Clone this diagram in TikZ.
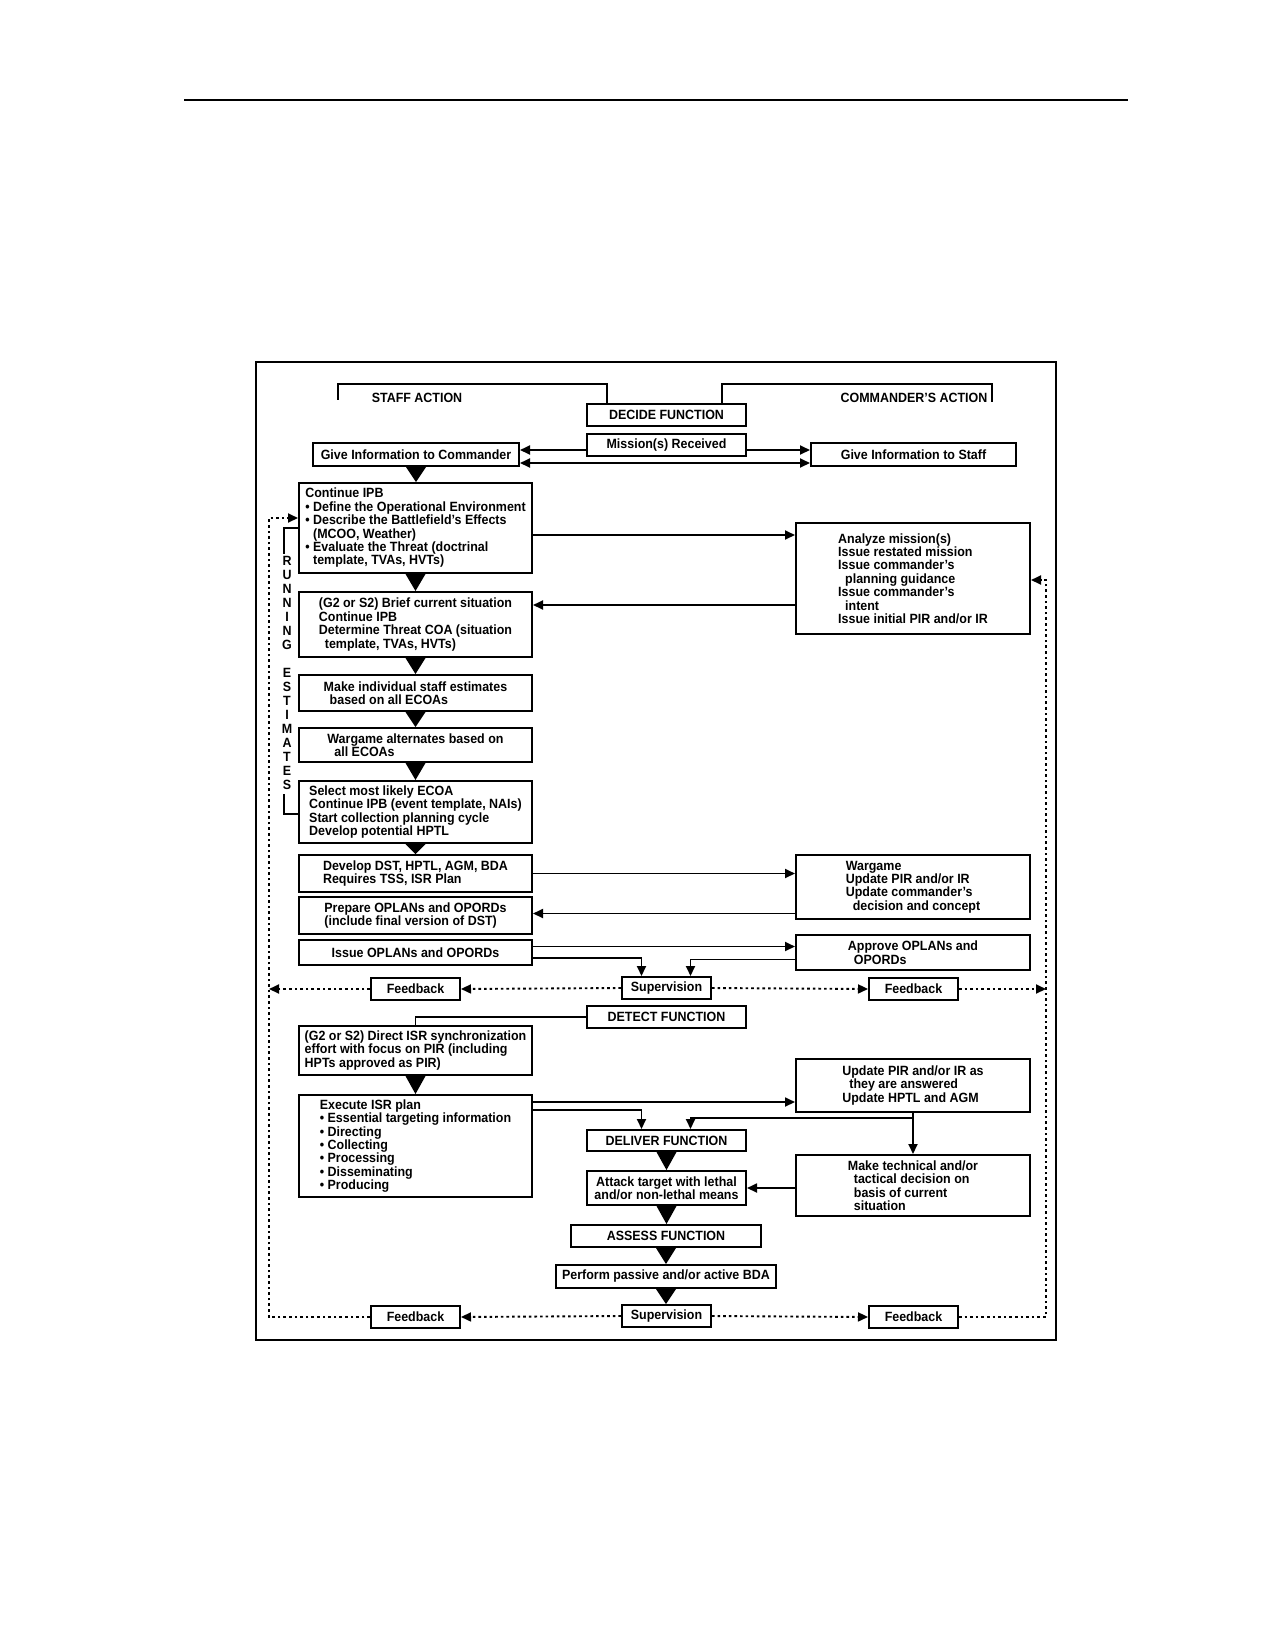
\documentclass[tikz,border=0pt]{standalone}
\usepackage{fontspec}
\setmainfont{Liberation Sans}[FakeStretch=0.93]
\usetikzlibrary{arrows.meta,calc}
\newcommand\tridown[2]{\fill ($(#1.south)+(-10,0)$) -- ($(#1.south)+(10,0)$) -- (#1.south |- #2.north) -- cycle;}
\begin{document}
\begin{tikzpicture}[x=1pt,y=-1pt,
  txt/.style={font=\fontsize{13.4}{13.4}\selectfont\bfseries},
  box/.style={txt,draw,line width=2pt,inner sep=2pt,align=left},
  lc/.style={box,minimum width=233pt},
  cc/.style={box,minimum width=159pt},
  rc/.style={box,minimum width=234pt},
  small/.style={box,minimum width=89pt,minimum height=22pt},
  lbl/.style={txt,inner sep=0pt},
  con/.style={line width=1.8pt},
  tip/.tip={Triangle[length=10pt,width=9pt]},
  arr/.style={con,-tip},
  dot/.style={line width=1.9pt,dash pattern=on 2.6pt off 3pt},
  dotarr/.style={dot,-tip}]
\fill[white] (0,0) rectangle (1275,1650);
\useasboundingbox (0,0) rectangle (1275,1650);
\draw[line width=2pt] (184,100) -- (1128,100);
\draw[line width=2pt] (256,362) rectangle (1056,1340);

% header
\node[lbl] (staff) at (417,398) {STAFF ACTION};
\node[lbl] (cmd) at (914,398) {COMMANDER’S ACTION};
\node[cc,minimum height=22pt] (decide) at (666.5,415) {DECIDE FUNCTION};
\node[cc,minimum height=22pt] (mission) at (666.5,445) {Mission(s) Received};
\node[box,minimum width=206pt,minimum height=23pt] (gic) at (416,454.5) {Give Information to Commander};
\node[box,minimum width=205pt,minimum height=23pt] (gis) at (913.5,454.5) {Give Information to Staff};
\coordinate (saEnd) at (338,400);
\coordinate (caEnd) at (992,402);
\draw[con] ($(decide.north west)+(21,0)$) -- ++(0,-19) -| (saEnd);
\draw[con] ($(decide.north west)+(136,0)$) -- ++(0,-19) -| (caEnd);

% left column
\node[lc,minimum height=90pt] (ipb) at (415.5,528) {Continue IPB\\
• Define the Operational Environment\\
• Describe the Battlefield’s Effects\\
\hphantom{• }(MCOO, Weather)\\
• Evaluate the Threat (doctrinal\\
\hphantom{• }template, TVAs, HVTs)};
\node[lc,minimum height=65pt] (brief) at (415.5,624.5) {(G2 or S2) Brief current situation\\
Continue IPB\\
Determine Threat COA (situation\\
\hspace*{6pt}template, TVAs, HVTs)};
\node[lc,minimum height=36pt] (indiv) at (415.5,693) {Make individual staff estimates\\\hspace*{6pt}based on all ECOAs};
\node[lc,minimum height=34pt] (wgalt) at (415.5,745) {Wargame alternates based on\\\hspace*{7pt}all ECOAs};
\node[lc,minimum height=62pt] (select) at (415.5,812) {Select most likely ECOA\\
Continue IPB (event template, NAIs)\\
Start collection planning cycle\\
Develop potential HPTL};
\node[lc,minimum height=37pt] (dst) at (415.5,873.5) {Develop DST, HPTL, AGM, BDA\\Requires TSS, ISR Plan};
\node[lc,minimum height=37pt] (prep) at (415.5,915.5) {Prepare OPLANs and OPORDs\\(include final version of DST)};
\node[lc,minimum height=25pt] (issue) at (415.5,952.5) {Issue OPLANs and OPORDs};

% running estimates
\node[lbl,align=center,font=\fontsize{13.4}{14}\selectfont\bfseries] (re) at (287,673)
  {R\\U\\N\\N\\I\\N\\G\\[14pt]E\\S\\T\\I\\M\\A\\T\\E\\S};
\draw[con] (ipb.west) -- ++(-14,0) -- ++(0,26);
\draw[con] ($(select.west)+(0,2)$) -- ++(-14,0) -- ++(0,-20);

% right column
\node[rc,minimum height=111pt] (analyze) at (913,578.5) {Analyze mission(s)\\
Issue restated mission\\
Issue commander’s\\
\hspace*{7pt}planning guidance\\
Issue commander’s\\
\hspace*{7pt}intent\\
Issue initial PIR and/or IR};
\node[rc,minimum height=64pt] (wgR) at (913,887) {Wargame\\
Update PIR and/or IR\\
Update commander’s\\
\hspace*{7pt}decision and concept};
\node[rc,minimum height=35pt] (approve) at (913,952.5) {Approve OPLANs and\\\hspace*{6pt}OPORDs};

% feedback row 1
\node[small] (sup1) at (666.5,988) {Supervision};
\node[small] (fbL1) at (415.5,989) {Feedback};
\node[small] (fbR1) at (913.5,989) {Feedback};

% detect
\node[cc,minimum height=22pt] (detect) at (666.5,1017) {DETECT FUNCTION};
\node[lc,minimum height=49pt] (g2isr) at (415.5,1050.5) {(G2 or S2) Direct ISR synchronization\\
effort with focus on PIR (including\\
HPTs approved as PIR)};
\node[lc,minimum height=102pt] (exec) at (415.5,1146) {Execute ISR plan\\
• Essential targeting information\\
• Directing\\
• Collecting\\
• Processing\\
• Disseminating\\
• Producing};
\node[rc,minimum height=53pt] (updpir) at (913,1085.5) {Update PIR and/or IR as\\
\hspace*{7pt}they are answered\\
Update HPTL and AGM};
\node[cc,minimum height=21pt] (deliver) at (666.5,1140.5) {DELIVER FUNCTION};
\node[cc,minimum height=34pt,align=center] (attack) at (666.5,1188) {Attack target with lethal\\and/or non-lethal means};
\node[rc,minimum height=61pt] (maketech) at (913,1185.5) {Make technical and/or\\
\hspace*{6pt}tactical decision on\\
\hspace*{6pt}basis of current\\
\hspace*{6pt}situation};
\node[box,minimum width=190pt,minimum height=22pt] (assess) at (666,1236) {ASSESS FUNCTION};
\node[box,minimum width=220pt,minimum height=23pt] (bda) at (666,1276.5) {Perform passive and/or active BDA};

% feedback row 2
\node[small] (sup2) at (666.5,1316) {Supervision};
\node[small] (fbL2) at (415.5,1317) {Feedback};
\node[small] (fbR2) at (913.5,1317) {Feedback};

% triangles
\tridown{gic}{ipb}
\tridown{ipb}{brief}
\tridown{brief}{indiv}
\tridown{indiv}{wgalt}
\tridown{wgalt}{select}
\tridown{select}{dst}
\tridown{g2isr}{exec}
\tridown{deliver}{attack}
\tridown{attack}{assess}
\tridown{assess}{bda}
\tridown{bda}{sup2}

% top connectors
\path (mission.west) ++(0,5) coordinate (mw);
\path (mission.east) ++(0,5) coordinate (me);
\draw[arr] (mw) -- (mw -| gic.east);
\draw[arr] (me) -- (me -| gis.west);
\path (gic.east) ++(0,8.5) coordinate (ge);
\draw[con,tip-tip] (ge) -- (ge -| gis.west);

% left-right connectors
\path (ipb.east) ++(0,7) coordinate (p1);
\draw[arr] (p1) -- (p1 -| analyze.west);
\path (brief.east) ++(0,-19.5) coordinate (b1);
\draw[arr] (b1 -| analyze.west) -- (b1);
\draw[arr] (dst.east) -- (dst.east -| wgR.west);
\path (prep.east) ++(0,-2) coordinate (pr1);
\draw[arr] (pr1 -| wgR.west) -- (pr1);
\path (issue.east) ++(0,-6) coordinate (is1);
\draw[arr] (is1) -- (is1 -| approve.west);
\path (issue.east) ++(0,5.5) coordinate (is2);
\draw[arr] (is2) -| ($(sup1.north)+(-25,0)$);
\path (approve.west) ++(0,7) coordinate (ap2);
\draw[arr] (ap2) -| ($(sup1.north)+(24,0)$);

% feedback loops
\coordinate (lv) at (269,518);
\coordinate (rv) at (1046,580);
\draw[dotarr] (sup1.west) -- (fbL1.east);
\draw[dotarr] (fbL1.west) -- (fbL1.west -| lv);
\draw[dotarr] (sup1.east) -- (fbR1.west);
\draw[dotarr] (fbR1.east) -- (fbR1.east -| rv);
\draw[dotarr] (sup2.west) -- (fbL2.east);
\draw[dotarr] (sup2.east) -- (fbR2.west);
\draw[dotarr] (fbL2.west) -| (lv) -- (lv -| ipb.west);
\draw[dotarr] (fbR2.east) -| (rv) -- (rv -| analyze.east);

% detect connectors
\draw[con] (detect.west) -| (g2isr.north);
\path (exec.north east) ++(0,8) coordinate (e1);
\draw[arr] (e1) -- (e1 -| updpir.west);
\path (exec.north east) ++(0,16) coordinate (e2);
\draw[arr] (e2) -| ($(deliver.north)+(-25,0)$);
\draw[arr] (updpir.south) -- (maketech.north);
\path (updpir.south) ++(0,5) coordinate (u1);
\draw[arr] (u1) -| ($(deliver.north)+(24,0)$);
\draw[arr] (maketech.west |- attack.east) -- (attack.east);
\end{tikzpicture}
\end{document}
